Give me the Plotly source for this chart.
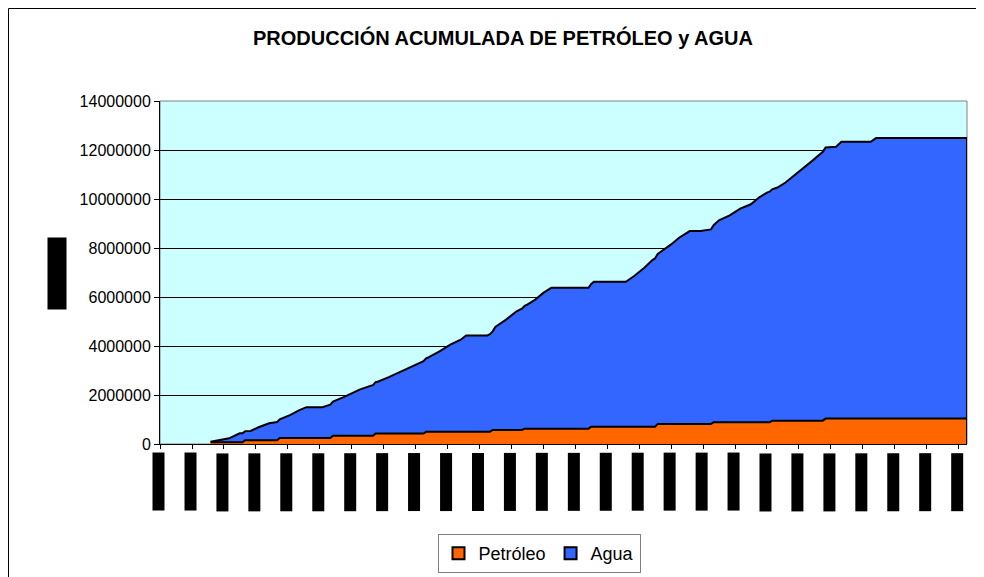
import plotly.graph_objects as go

# ---------------- data ----------------
fechas_agua = [
    "1981-08-01", "1981-11-01", "1982-03-01", "1982-07-01", "1982-11-01", "1983-02-01",
    "1983-06-01", "1983-10-01", "1984-02-01", "1984-05-01", "1984-08-01", "1985-02-01",
    "1985-06-01", "1985-10-01", "1986-01-01", "1986-04-01", "1986-08-01", "1986-11-01",
    "1987-03-01", "1987-07-01", "1987-11-01", "1988-03-01", "1988-06-01", "1988-10-01",
    "1989-02-01", "1989-06-01", "1989-08-01", "1990-04-01", "1990-06-01", "1990-07-01",
    "1990-11-01", "1991-03-01", "1991-07-01", "1991-10-01", "1992-01-01", "1992-04-01",
    "1993-06-01", "1993-08-01", "1994-08-01", "1994-11-01", "1995-03-01", "1995-06-01",
    "1995-09-01", "1996-01-01", "1996-04-01", "1996-08-01", "1996-12-01", "1997-04-01",
    "1997-07-01", "1997-11-01", "1998-03-01", "1998-07-01", "1998-10-01", "1999-01-01",
    "1999-05-01", "1999-08-01", "1999-12-01", "2000-04-01", "2000-06-01", "2000-11-01",
    "2001-03-01", "2001-05-01", "2002-04-01", "2002-06-01", "2005-04-06",
]
agua = [
    24000, 94000, 163000, 368000, 381000, 533000,
    696000, 765000, 941000, 1117000, 1256000, 1256000,
    1396000, 1576000, 1724000, 1884000, 2038000, 2120000,
    2300000, 2489000, 2693000, 2898000, 3045000, 3274000,
    3549000, 3753000, 3929000, 3926000, 4024000, 4204000,
    4503000, 4843000, 5064000, 5269000, 5543000, 5748000,
    5748000, 5911000, 5911000, 6141000, 6484000, 6796000,
    7011000, 7327000, 7602000, 7872000, 7872000, 7941000,
    8241000, 8445000, 8720000, 8896000, 9170000, 9375000,
    9513000, 9718000, 10058000, 10398000, 10602000, 11069000,
    11093000, 11298000, 11298000, 11449000, 11449000,
]

fechas_petroleo = [
    "1981-08-01", "1982-08-01", "1982-09-01", "1983-09-01", "1983-10-01", "1985-05-01",
    "1985-06-01", "1986-09-01", "1986-10-01", "1988-04-01", "1988-05-01", "1990-05-01",
    "1990-06-01", "1991-05-01", "1991-06-01", "1993-06-01", "1993-07-01", "1995-07-01",
    "1995-08-01", "1997-04-01", "1997-05-01", "1999-02-01", "1999-03-01", "2000-10-01",
    "2000-11-01", "2005-04-06",
]
petroleo = [
    70000, 70000, 151000, 151000, 246000, 246000,
    336000, 336000, 430000, 430000, 504000, 504000,
    573000, 573000, 626000, 626000, 708000, 708000,
    819000, 819000, 888000, 888000, 954000, 954000,
    1036000, 1036000,
]

anios = list(range(1980, 2006))
etiquetas_x = ["ene-%02d" % (a % 100) for a in anios]
titulo_y = "Barriles"

y_ticks = [0, 2000000, 4000000, 6000000, 8000000, 10000000, 12000000, 14000000]

# ---------------- figure ----------------
FONT = "Liberation Sans, Arial, sans-serif"
OFF = 8                          # default body margin of the html page
W, H = 984 - OFF, 577 - OFF      # figure size
L = 160 - OFF                    # plot-area left (figure px)
TOP = 101 - OFF                  # plot-area top
RIGHT = 967 - OFF                # plot-area right
BOT = 444 - OFF                  # plot-area bottom
pw, ph = RIGHT - L, BOT - TOP


def px_x(page_x):
    return (page_x - OFF - L) / pw


def px_y(page_y):
    return (BOT - (page_y - OFF)) / ph


fig = go.Figure()

fig.add_trace(go.Scatter(
    x=fechas_petroleo, y=petroleo, name="Petróleo", stackgroup="uno",
    stackgaps="interpolate", mode="lines",
    line=dict(color="black", width=2), fillcolor="#FF6600", showlegend=False,
))
fig.add_trace(go.Scatter(
    x=fechas_agua, y=agua, name="Agua", stackgroup="uno", mode="lines",
    line=dict(color="black", width=2), fillcolor="#3366FF", showlegend=False,
))
# right-hand closing edge of the area
fig.add_trace(go.Scatter(
    x=[fechas_agua[-1], fechas_agua[-1]], y=[0, agua[-1] + petroleo[-1]],
    mode="lines", line=dict(color="black", width=2), showlegend=False, hoverinfo="skip",
))
# legend entries (square swatches)
fig.add_trace(go.Bar(x=[None], y=[None], name="Petróleo",
                     marker=dict(color="#FF6600", line=dict(color="black", width=1))))
fig.add_trace(go.Bar(x=[None], y=[None], name="Agua",
                     marker=dict(color="#3366FF", line=dict(color="black", width=1))))

annotations = []
for a, lab in zip(anios, etiquetas_x):
    annotations.append(dict(
        x="%d-01-01" % a, xref="x", y=px_y(482), yref="paper",
        xanchor="center", yanchor="middle",
        text=lab, textangle=-90, showarrow=False,
        bgcolor="black", font=dict(color="black", size=8, family=FONT),
        width=58, height=12, borderpad=0, borderwidth=0, xshift=-1.5,
    ))
annotations.append(dict(
    x=px_x(56.5), xref="paper", y=px_y(274), yref="paper",
    xanchor="center", yanchor="middle",
    text=titulo_y, textangle=-90, showarrow=False,
    bgcolor="black", font=dict(color="black", size=10, family=FONT),
    width=72, height=19, borderpad=0, borderwidth=0,
))

shapes = [
    # plot-area frame
    dict(type="rect", xref="paper", yref="paper", x0=0, x1=1, y0=0, y1=1,
         line=dict(color="#808080", width=1), layer="between"),
    # outer chart border
    dict(type="rect", xref="paper", yref="paper",
         x0=px_x(8.5), x1=px_x(979.5), y0=px_y(600), y1=px_y(8.5),
         line=dict(color="black", width=1), layer="above"),
]

fig.update_layout(
    width=W, height=H,
    margin=dict(l=L, r=W - RIGHT, t=TOP, b=H - BOT, pad=0, autoexpand=False),
    paper_bgcolor="white",
    plot_bgcolor="#CCFFFF",
    font=dict(family=FONT, color="black"),
    title=dict(text="<b>PRODUCCIÓN ACUMULADA DE PETRÓLEO y AGUA</b>",
               x=(503 - OFF) / W, xanchor="center", xref="container",
               y=1 - (38 - OFF) / H, yanchor="middle", yref="container",
               font=dict(size=20, family=FONT, color="black")),
    showlegend=True,
    legend=dict(orientation="h", x=px_x(539), xanchor="center",
                y=px_y(534), yanchor="top", traceorder="normal",
                bordercolor="#808080", borderwidth=1, bgcolor="white",
                font=dict(size=18, family=FONT, color="black"),
                itemsizing="constant"),
    xaxis=dict(type="date", range=["1980-01-01", "2005-04-06"],
               tick0="1980-01-01", dtick="M12", showticklabels=False,
               ticks="outside", ticklen=4, tickcolor="black",
               showline=True, linecolor="black", linewidth=1,
               showgrid=False, zeroline=False),
    yaxis=dict(range=[0, 14000000], tickvals=y_ticks, tickformat="d",
               ticks="outside", ticklen=5, tickcolor="black",
               showline=True, linecolor="black", linewidth=1,
               showgrid=True, gridcolor="black", gridwidth=1,
               zeroline=False, tickfont=dict(size=16, family=FONT, color="black")),
    annotations=annotations,
    shapes=shapes,
)

fig.write_html("out.html")
